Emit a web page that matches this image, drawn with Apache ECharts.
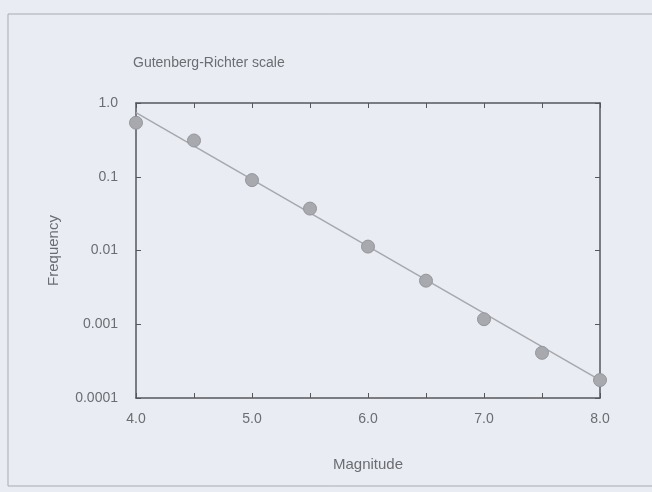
<!DOCTYPE html>
<html>
<head>
<meta charset="utf-8">
<script src="https://cdn.jsdelivr.net/npm/echarts@6/dist/echarts.min.js"></script>
<style>
html,body{margin:0;padding:0;background:#e9ecf2;}
#c{width:652px;height:492px;}
</style>
</head>
<body>
<div id="c"></div>
<script>
var magnitudes = [4.0, 4.5, 5.0, 5.5, 6.0, 6.5, 7.0, 7.5, 8.0];
var frequencies = [0.54, 0.31, 0.09, 0.037, 0.0113, 0.0039, 0.00117, 0.00041, 0.000175];
var fitMagnitudes = [4.0, 8.0];
var fitFrequencies = [0.74, 0.000175];
var yTickValues = [1, 0.1, 0.01, 0.001, 0.0001];
var yTickLabels = ['1.0', '0.1', '0.01', '0.001', '0.0001'];
var xTickLabels = {4: '4.0', 5: '5.0', 6: '6.0', 7: '7.0', 8: '8.0'};

var textColor = '#6b6d72';
var axisColor = '#55575c';
var font = 'Liberation Sans, Arial, sans-serif';

function yFmt(v) {
  for (var i = 0; i < yTickValues.length; i++) {
    if (Math.abs(Math.log10(v) - Math.log10(yTickValues[i])) < 1e-6) return yTickLabels[i];
  }
  return '';
}
function xFmt(v) {
  var r = Math.round(v * 10) / 10;
  return xTickLabels[r] !== undefined && Math.abs(r - Math.round(r)) < 1e-6 ? xTickLabels[r] : '';
}

var chart = echarts.init(document.getElementById('c'));
chart.setOption({
  backgroundColor: '#e9ecf2',
  animation: false,
  title: {
    text: 'Gutenberg-Richter scale',
    left: 128, top: 51,
    textStyle: {color: textColor, fontSize: 14, fontWeight: 'normal', fontFamily: font}
  },
  graphic: [{
    type: 'rect', shape: {x: 8, y: 14, width: 660, height: 472},
    style: {fill: 'none', stroke: '#a9abb0', lineWidth: 1}, silent: true
  }],
  grid: {left: 136, right: 52, top: 103, bottom: 94},
  xAxis: [{
    type: 'value', min: 4, max: 8, interval: 0.5,
    name: 'Magnitude', nameLocation: 'middle', nameGap: 59,
    nameTextStyle: {color: textColor, fontSize: 15, fontFamily: font},
    axisLine: {show: true, onZero: false, lineStyle: {color: axisColor, width: 1.5}},
    axisTick: {show: true, inside: true, length: 5, lineStyle: {color: axisColor}},
    axisLabel: {color: textColor, fontSize: 14, fontFamily: font, margin: 14, formatter: xFmt},
    splitLine: {show: false}
  }, {
    type: 'value', min: 4, max: 8, interval: 0.5, position: 'top',
    axisLine: {show: true, onZero: false, lineStyle: {color: axisColor, width: 1.5}},
    axisTick: {show: true, inside: true, length: 5, lineStyle: {color: axisColor}},
    axisLabel: {show: false}, splitLine: {show: false}
  }],
  yAxis: [{
    type: 'log', logBase: 10, min: 0.0001, max: 1,
    name: 'Frequency', nameLocation: 'middle', nameGap: 75,
    nameTextStyle: {color: textColor, fontSize: 15, fontFamily: font},
    axisLine: {show: true, onZero: false, lineStyle: {color: axisColor, width: 1.5}},
    axisTick: {show: true, inside: true, length: 5, lineStyle: {color: axisColor}},
    axisLabel: {color: textColor, fontSize: 14, fontFamily: font, margin: 18, formatter: yFmt},
    splitLine: {show: false}
  }, {
    type: 'log', logBase: 10, min: 0.0001, max: 1, position: 'right',
    axisLine: {show: true, onZero: false, lineStyle: {color: axisColor, width: 1.5}},
    axisTick: {show: true, inside: true, length: 5, lineStyle: {color: axisColor}},
    axisLabel: {show: false}, splitLine: {show: false}
  }],
  series: [{
    type: 'line',
    data: fitMagnitudes.map(function (m, i) { return [m, fitFrequencies[i]]; }),
    showSymbol: false, symbol: 'none',
    lineStyle: {color: '#a6a8ae', width: 1.5},
    z: 2
  }, {
    type: 'scatter',
    data: magnitudes.map(function (m, i) { return [m, frequencies[i]]; }),
    symbol: 'circle', symbolSize: 13,
    itemStyle: {color: '#a7a9ae', borderColor: '#94969b', borderWidth: 1, opacity: 1},
    clip: false,
    z: 3
  }]
});
</script>
</body>
</html>
